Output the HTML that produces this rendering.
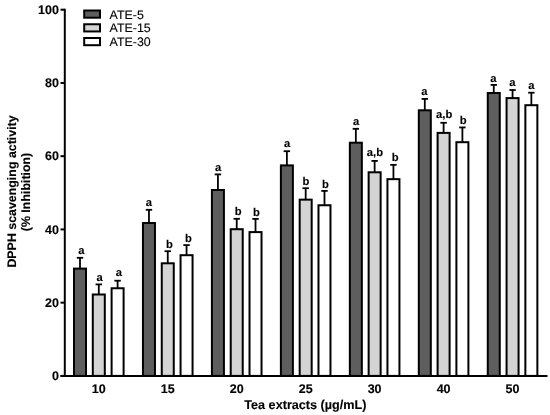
<!DOCTYPE html>
<html><head><meta charset="utf-8"><style>
html,body{margin:0;padding:0;background:#fff;}
body{width:550px;height:415px;overflow:hidden;}
svg{display:block;}
text{font-family:"Liberation Sans",Arial,sans-serif;fill:#000;text-rendering:geometricPrecision;}
.tick{font-size:12.5px;font-weight:bold;stroke:#000;stroke-width:0.15px;}
.lab{font-size:11.2px;font-weight:bold;text-anchor:middle;stroke:#000;stroke-width:0.12px;}
.leg{font-size:12.4px;stroke:#000;stroke-width:0.12px;}
.ttl{font-size:12.4px;font-weight:bold;stroke:#000;stroke-width:0.12px;}
</style></head><body>
<svg width="550" height="415" viewBox="0 0 550 415">
<line x1="80.00" y1="257.80" x2="80.00" y2="268.60" stroke="#000" stroke-width="1.8"/>
<line x1="76.80" y1="257.80" x2="83.20" y2="257.80" stroke="#000" stroke-width="1.8"/>
<rect x="74.00" y="268.60" width="12" height="107.30" fill="#5e5e5e" stroke="#000" stroke-width="2"/>
<text x="81.40" y="253.70" class="lab">a</text>
<line x1="98.80" y1="284.40" x2="98.80" y2="294.50" stroke="#000" stroke-width="1.8"/>
<line x1="95.60" y1="284.40" x2="102.00" y2="284.40" stroke="#000" stroke-width="1.8"/>
<rect x="92.80" y="294.50" width="12" height="81.40" fill="#d4d4d4" stroke="#000" stroke-width="2"/>
<text x="99.50" y="280.50" class="lab">a</text>
<line x1="117.60" y1="280.70" x2="117.60" y2="288.25" stroke="#000" stroke-width="1.8"/>
<line x1="114.40" y1="280.70" x2="120.80" y2="280.70" stroke="#000" stroke-width="1.8"/>
<rect x="111.60" y="288.25" width="12" height="87.65" fill="#ffffff" stroke="#000" stroke-width="2"/>
<text x="118.75" y="276.40" class="lab">a</text>
<text x="98.80" y="393.2" class="tick" text-anchor="middle">10</text>
<line x1="148.96" y1="209.80" x2="148.96" y2="223.00" stroke="#000" stroke-width="1.8"/>
<line x1="145.76" y1="209.80" x2="152.16" y2="209.80" stroke="#000" stroke-width="1.8"/>
<rect x="142.96" y="223.00" width="12" height="152.90" fill="#5e5e5e" stroke="#000" stroke-width="2"/>
<text x="148.80" y="205.50" class="lab">a</text>
<line x1="167.76" y1="251.20" x2="167.76" y2="263.30" stroke="#000" stroke-width="1.8"/>
<line x1="164.56" y1="251.20" x2="170.96" y2="251.20" stroke="#000" stroke-width="1.8"/>
<rect x="161.76" y="263.30" width="12" height="112.60" fill="#d4d4d4" stroke="#000" stroke-width="2"/>
<text x="169.40" y="247.60" class="lab">b</text>
<line x1="186.56" y1="245.10" x2="186.56" y2="255.20" stroke="#000" stroke-width="1.8"/>
<line x1="183.36" y1="245.10" x2="189.76" y2="245.10" stroke="#000" stroke-width="1.8"/>
<rect x="180.56" y="255.20" width="12" height="120.70" fill="#ffffff" stroke="#000" stroke-width="2"/>
<text x="188.30" y="242.20" class="lab">b</text>
<text x="167.76" y="393.2" class="tick" text-anchor="middle">15</text>
<line x1="217.92" y1="174.40" x2="217.92" y2="190.00" stroke="#000" stroke-width="1.8"/>
<line x1="214.72" y1="174.40" x2="221.12" y2="174.40" stroke="#000" stroke-width="1.8"/>
<rect x="211.92" y="190.00" width="12" height="185.90" fill="#5e5e5e" stroke="#000" stroke-width="2"/>
<text x="218.00" y="171.10" class="lab">a</text>
<line x1="236.72" y1="218.80" x2="236.72" y2="229.20" stroke="#000" stroke-width="1.8"/>
<line x1="233.52" y1="218.80" x2="239.92" y2="218.80" stroke="#000" stroke-width="1.8"/>
<rect x="230.72" y="229.20" width="12" height="146.70" fill="#d4d4d4" stroke="#000" stroke-width="2"/>
<text x="238.20" y="215.30" class="lab">b</text>
<line x1="255.52" y1="218.90" x2="255.52" y2="232.10" stroke="#000" stroke-width="1.8"/>
<line x1="252.32" y1="218.90" x2="258.72" y2="218.90" stroke="#000" stroke-width="1.8"/>
<rect x="249.52" y="232.10" width="12" height="143.80" fill="#ffffff" stroke="#000" stroke-width="2"/>
<text x="256.50" y="216.00" class="lab">b</text>
<text x="236.72" y="393.2" class="tick" text-anchor="middle">20</text>
<line x1="286.88" y1="151.20" x2="286.88" y2="165.40" stroke="#000" stroke-width="1.8"/>
<line x1="283.68" y1="151.20" x2="290.08" y2="151.20" stroke="#000" stroke-width="1.8"/>
<rect x="280.88" y="165.40" width="12" height="210.50" fill="#5e5e5e" stroke="#000" stroke-width="2"/>
<text x="287.00" y="147.30" class="lab">a</text>
<line x1="305.68" y1="188.20" x2="305.68" y2="199.65" stroke="#000" stroke-width="1.8"/>
<line x1="302.48" y1="188.20" x2="308.88" y2="188.20" stroke="#000" stroke-width="1.8"/>
<rect x="299.68" y="199.65" width="12" height="176.25" fill="#d4d4d4" stroke="#000" stroke-width="2"/>
<text x="305.90" y="184.90" class="lab">b</text>
<line x1="324.48" y1="190.90" x2="324.48" y2="205.25" stroke="#000" stroke-width="1.8"/>
<line x1="321.28" y1="190.90" x2="327.68" y2="190.90" stroke="#000" stroke-width="1.8"/>
<rect x="318.48" y="205.25" width="12" height="170.65" fill="#ffffff" stroke="#000" stroke-width="2"/>
<text x="325.40" y="187.80" class="lab">b</text>
<text x="305.68" y="393.2" class="tick" text-anchor="middle">25</text>
<line x1="355.84" y1="128.80" x2="355.84" y2="142.70" stroke="#000" stroke-width="1.8"/>
<line x1="352.64" y1="128.80" x2="359.04" y2="128.80" stroke="#000" stroke-width="1.8"/>
<rect x="349.84" y="142.70" width="12" height="233.20" fill="#5e5e5e" stroke="#000" stroke-width="2"/>
<text x="356.00" y="124.80" class="lab">a</text>
<line x1="374.64" y1="160.90" x2="374.64" y2="172.30" stroke="#000" stroke-width="1.8"/>
<line x1="371.44" y1="160.90" x2="377.84" y2="160.90" stroke="#000" stroke-width="1.8"/>
<rect x="368.64" y="172.30" width="12" height="203.60" fill="#d4d4d4" stroke="#000" stroke-width="2"/>
<text x="374.90" y="155.70" class="lab">a,b</text>
<line x1="393.44" y1="164.85" x2="393.44" y2="179.15" stroke="#000" stroke-width="1.8"/>
<line x1="390.24" y1="164.85" x2="396.64" y2="164.85" stroke="#000" stroke-width="1.8"/>
<rect x="387.44" y="179.15" width="12" height="196.75" fill="#ffffff" stroke="#000" stroke-width="2"/>
<text x="395.10" y="160.50" class="lab">b</text>
<text x="374.64" y="393.2" class="tick" text-anchor="middle">30</text>
<line x1="424.80" y1="98.90" x2="424.80" y2="110.30" stroke="#000" stroke-width="1.8"/>
<line x1="421.60" y1="98.90" x2="428.00" y2="98.90" stroke="#000" stroke-width="1.8"/>
<rect x="418.80" y="110.30" width="12" height="265.60" fill="#5e5e5e" stroke="#000" stroke-width="2"/>
<text x="424.25" y="95.30" class="lab">a</text>
<line x1="443.60" y1="122.80" x2="443.60" y2="132.90" stroke="#000" stroke-width="1.8"/>
<line x1="440.40" y1="122.80" x2="446.80" y2="122.80" stroke="#000" stroke-width="1.8"/>
<rect x="437.60" y="132.90" width="12" height="243.00" fill="#d4d4d4" stroke="#000" stroke-width="2"/>
<text x="444.20" y="117.50" class="lab">a,b</text>
<line x1="462.40" y1="127.45" x2="462.40" y2="142.20" stroke="#000" stroke-width="1.8"/>
<line x1="459.20" y1="127.45" x2="465.60" y2="127.45" stroke="#000" stroke-width="1.8"/>
<rect x="456.40" y="142.20" width="12" height="233.70" fill="#ffffff" stroke="#000" stroke-width="2"/>
<text x="463.10" y="123.50" class="lab">b</text>
<text x="443.60" y="393.2" class="tick" text-anchor="middle">40</text>
<line x1="493.76" y1="84.90" x2="493.76" y2="93.00" stroke="#000" stroke-width="1.8"/>
<line x1="490.56" y1="84.90" x2="496.96" y2="84.90" stroke="#000" stroke-width="1.8"/>
<rect x="487.76" y="93.00" width="12" height="282.90" fill="#5e5e5e" stroke="#000" stroke-width="2"/>
<text x="493.40" y="81.60" class="lab">a</text>
<line x1="512.56" y1="90.00" x2="512.56" y2="98.10" stroke="#000" stroke-width="1.8"/>
<line x1="509.36" y1="90.00" x2="515.76" y2="90.00" stroke="#000" stroke-width="1.8"/>
<rect x="506.56" y="98.10" width="12" height="277.80" fill="#d4d4d4" stroke="#000" stroke-width="2"/>
<text x="512.25" y="86.00" class="lab">a</text>
<line x1="531.36" y1="92.70" x2="531.36" y2="105.20" stroke="#000" stroke-width="1.8"/>
<line x1="528.16" y1="92.70" x2="534.56" y2="92.70" stroke="#000" stroke-width="1.8"/>
<rect x="525.36" y="105.20" width="12" height="270.70" fill="#ffffff" stroke="#000" stroke-width="2"/>
<text x="531.25" y="89.10" class="lab">a</text>
<text x="512.56" y="393.2" class="tick" text-anchor="middle">50</text>
<line x1="64.80" y1="8.70" x2="64.80" y2="376.90" stroke="#000" stroke-width="2"/>
<line x1="60.5" y1="375.90" x2="547.5" y2="375.90" stroke="#000" stroke-width="2"/>
<line x1="60.5" y1="375.90" x2="64.80" y2="375.90" stroke="#000" stroke-width="2"/>
<text x="58.9" y="380.20" class="tick" text-anchor="end">0</text>
<line x1="60.5" y1="302.66" x2="64.80" y2="302.66" stroke="#000" stroke-width="2"/>
<text x="58.9" y="306.96" class="tick" text-anchor="end">20</text>
<line x1="60.5" y1="229.42" x2="64.80" y2="229.42" stroke="#000" stroke-width="2"/>
<text x="58.9" y="233.72" class="tick" text-anchor="end">40</text>
<line x1="60.5" y1="156.18" x2="64.80" y2="156.18" stroke="#000" stroke-width="2"/>
<text x="58.9" y="160.48" class="tick" text-anchor="end">60</text>
<line x1="60.5" y1="82.94" x2="64.80" y2="82.94" stroke="#000" stroke-width="2"/>
<text x="58.9" y="87.24" class="tick" text-anchor="end">80</text>
<line x1="60.5" y1="9.70" x2="64.80" y2="9.70" stroke="#000" stroke-width="2"/>
<text x="58.9" y="14.00" class="tick" text-anchor="end">100</text>
<rect x="84.2" y="10.50" width="15.8" height="7.2" fill="#5e5e5e" stroke="#000" stroke-width="2"/>
<text x="109.6" y="18.70" class="leg">ATE-5</text>
<rect x="84.2" y="24.25" width="15.8" height="7.2" fill="#d4d4d4" stroke="#000" stroke-width="2"/>
<text x="109.6" y="32.20" class="leg">ATE-15</text>
<rect x="84.2" y="38.00" width="15.8" height="7.2" fill="#ffffff" stroke="#000" stroke-width="2"/>
<text x="109.6" y="45.70" class="leg">ATE-30</text>
<text x="305.4" y="409.2" class="ttl" style="font-size:12.65px" text-anchor="middle">Tea extracts (&#181;g/mL)</text>
<text transform="translate(15.7,191.5) rotate(-90)" class="ttl" text-anchor="middle">DPPH scavenging activity</text>
<text transform="translate(30.1,192.0) rotate(-90)" class="ttl" text-anchor="middle">(% Inhibition)</text>
</svg>
</body></html>
